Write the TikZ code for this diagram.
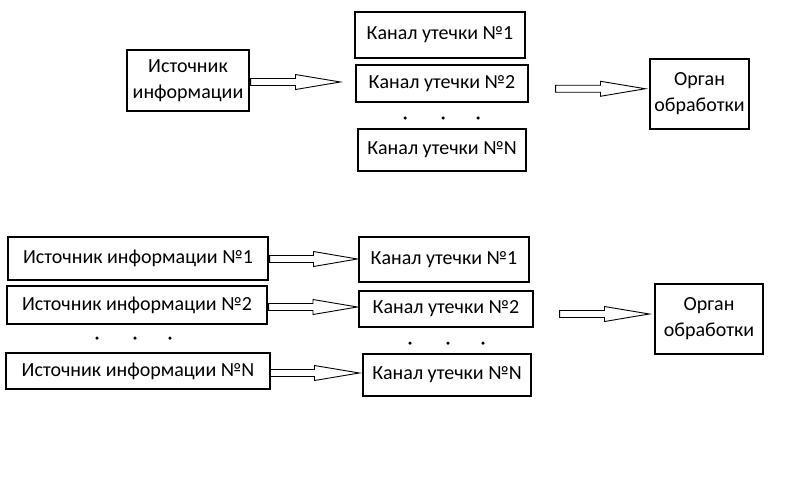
\documentclass[tikz,border=0pt]{standalone}
\usepackage{fontspec}
\setmainfont{Carlito}
\usetikzlibrary{positioning, calc}

% freccia vuota a blocco tra due punti
\newcommand{\blockarrow}[2]{%
	\path (#1) coordinate (arrowStart) (#2) coordinate (arrowEnd);
	\path ($(arrowStart)!0.5!(arrowEnd)$) coordinate (arrowMid)
		(arrowStart |- arrowMid) coordinate (arrowTail)
		(arrowEnd |- arrowMid) coordinate (arrowTip);
	\draw[arrowline] ([yshift=3.5pt]arrowTail) -- ([yshift=3.5pt]arrowMid) -- ([yshift=7.5pt]arrowMid)
		-- (arrowTip) -- ([yshift=-7.5pt]arrowMid) -- ([yshift=-3.5pt]arrowMid) -- ([yshift=-3.5pt]arrowTail) -- cycle;}

\begin{document}
\begin{tikzpicture}[x=1pt, y=-1pt,
		box/.style={draw, line width=1.3pt, inner sep=0pt, align=center, font=\fontsize{20}{26}\selectfont},
		dot/.style={circle, fill, inner sep=0pt, minimum size=3.5pt},
		arrowline/.style={draw, line width=0.9pt}]
		
		\useasboundingbox (0,0) rectangle (811,480);
		
		%Nodi della parte superiore
		\node (infoSource) at (188,80.5) [box, minimum width=122pt, minimum height=61pt] {Источник\\информации};
		
		\node (leakChannel1) at (440,35) [box, minimum width=170pt, minimum height=46pt] {Канал утечки №1};
		
		\node (leakChannel2) at (442,83.5) [box, minimum width=172pt, minimum height=37pt] {Канал утечки №2};
		
		\node (leakChannelN) at (442,150) [box, minimum width=168pt, minimum height=42pt] {Канал утечки №N};
		
		\node (processingUnit) at (699.5,94) [box, minimum width=99pt, minimum height=70pt] {Орган\\обработки};
		
		\foreach \x in {405,443,478}
			\node[dot] at (\x,118) {};
		
		\blockarrow{[xshift=1pt]infoSource.east}{[xshift=-15pt]leakChannel2.west}
		\blockarrow{[xshift=27pt]leakChannel2.east}{[xshift=-4pt]processingUnit.west}
		
		%Nodi della parte inferiore
		\node (infoSource1) at (138,258.5) [box, minimum width=260pt, minimum height=43pt] {Источник информации №1};
		
		\node (infoSource2) at (137,305) [box, minimum width=260pt, minimum height=38pt] {Источник информации №2};
		
		\node (infoSourceN) at (138,371) [box, minimum width=264pt, minimum height=36pt] {Источник информации №N};
		
		\node (channel1) at (444,259.5) [box, minimum width=170pt, minimum height=45pt] {Канал утечки №1};
		
		\node (channel2) at (446,309) [box, minimum width=174pt, minimum height=36pt] {Канал утечки №2};
		
		\node (channelN) at (447,375) [box, minimum width=168pt, minimum height=42pt] {Канал утечки №N};
		
		\node (processingUnit2) at (709,319) [box, minimum width=108pt, minimum height=70pt] {Орган\\обработки};
		
		\foreach \x in {97,135,170}
			\node[dot] at (\x,338) {};
		\foreach \x in {410,448,483}
			\node[dot] at (\x,343) {};
		
		\blockarrow{[xshift=1pt]infoSource1.east}{[xshift=-1pt]channel1.west}
		\blockarrow{[xshift=1pt]infoSource2.east}{[xshift=-1pt]channel2.west}
		\blockarrow{[xshift=-1pt]infoSourceN.east}{[xshift=-3pt]channelN.west}
		\blockarrow{[xshift=26pt]channel2.east}{[xshift=-5pt]processingUnit2.west}
		
\end{tikzpicture}
\end{document}
